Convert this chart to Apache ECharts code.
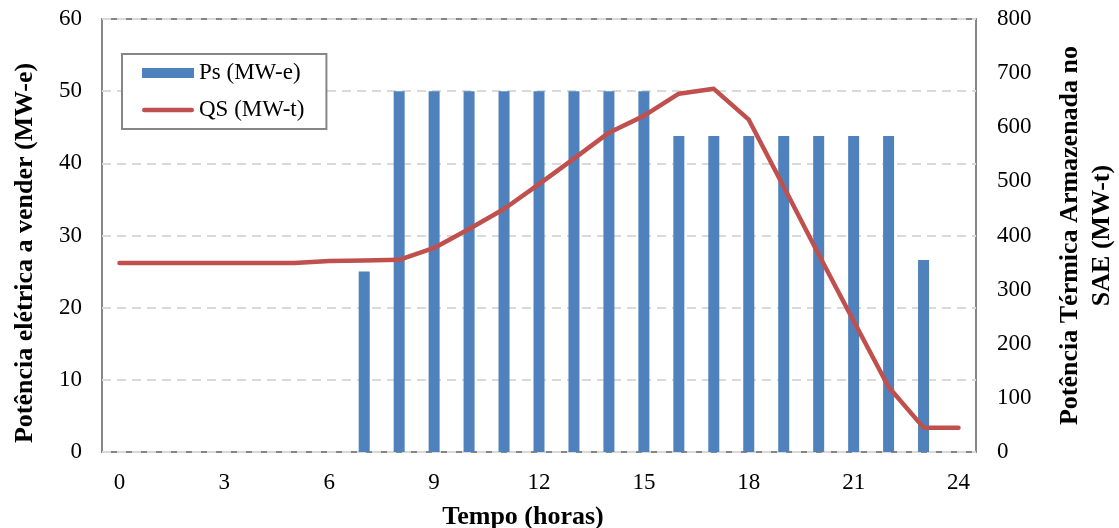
<!DOCTYPE html>
<html>
<head>
<meta charset="utf-8">
<script src="https://cdn.jsdelivr.net/npm/echarts@6/dist/echarts.min.js"></script>
<style>
  html, body { margin: 0; padding: 0; background: #fff; }
  #chart { width: 1119px; height: 528px; }
</style>
</head>
<body>
<div id="chart"></div>
<script>
// Hours of the day (0..24)
const hours = ['0','1','2','3','4','5','6','7','8','9','10','11','12','13','14','15','16','17','18','19','20','21','22','23','24'];

// Electric power to sell, Ps (MW-e)
const psValues = [null, null, null, null, null, null, null, 25, 50, 50, 50, 50, 50, 50, 50, 50,
                  43.8, 43.8, 43.8, 43.8, 43.8, 43.8, 43.8, 26.6, null];

// Thermal power stored in the SAE, QS (MW-t)
const qsValues = [349, 349, 349, 349, 349, 349, 353, 354, 355, 377, 412, 449, 495, 542, 590, 621,
                  662, 671, 614, 490, 365, 242, 120, 45, 45];

const font = 'Liberation Serif, Times New Roman, serif';

// Thick rounded stroke used as the line series' legend icon
const lineIcon = 'path://M2.25,0 H49.75 A2.25,2.25 0 0 1 49.75,4.5 H2.25 A2.25,2.25 0 0 1 2.25,0 Z';

const chart = echarts.init(document.getElementById('chart'), null, { renderer: 'canvas' });

chart.setOption({
  animation: false,
  backgroundColor: '#ffffff',
  textStyle: { fontFamily: font },
  grid: {
    left: 102, right: 143, top: 19, bottom: 76,
    outerBoundsMode: 'none',
    containLabel: false,
    show: true, borderColor: '#868686', borderWidth: 2, backgroundColor: '#ffffff'
  },
  legend: {
    orient: 'vertical',
    left: 122, top: 54,
    backgroundColor: '#ffffff',
    borderColor: '#868686', borderWidth: 2,
    padding: [7, 22, 7, 20],
    itemWidth: 52, itemHeight: 10, itemGap: 13,
    symbolKeepAspect: true,
    textStyle: { fontFamily: font, fontSize: 23, color: '#000', lineHeight: 24 },
    data: [
      { name: 'Ps (MW-e)', icon: 'rect' },
      { name: 'QS (MW-t)', icon: lineIcon }
    ]
  },
  xAxis: {
    type: 'category',
    data: hours,
    boundaryGap: true,
    name: 'Tempo (horas)',
    nameLocation: 'middle',
    nameGap: 52,
    nameTextStyle: { fontFamily: font, fontSize: 26, fontWeight: 'bold', color: '#000', padding: [0, 32, 0, 0] },
    axisLine: { show: false },
    axisTick: { show: false },
    axisLabel: { interval: 2, margin: 19, fontFamily: font, fontSize: 23, color: '#000' },
    splitLine: { show: false }
  },
  yAxis: [
    {
      type: 'value', min: 0, max: 60, interval: 10, position: 'left',
      name: 'Potência elétrica a vender (MW-e)',
      nameLocation: 'middle', nameRotate: 90, nameGap: 64,
      nameTextStyle: { fontFamily: font, fontSize: 26, fontWeight: 'bold', color: '#000', padding: [0, 35, 0, 0] },
      axisLine: { show: false }, axisTick: { show: false },
      axisLabel: { margin: 20, fontFamily: font, fontSize: 23, color: '#000' },
      splitLine: { show: true, lineStyle: { color: '#d9d9d9', width: 2, type: [9, 6] } }
    },
    {
      type: 'value', min: 0, max: 800, interval: 100, position: 'right',
      name: 'Potência Térmica Armazenada no\nSAE (MW-t)',
      nameLocation: 'middle', nameRotate: 90, nameGap: 78,
      nameTextStyle: { fontFamily: font, fontSize: 26, fontWeight: 'bold', color: '#000', lineHeight: 32, align: 'center' },
      axisLine: { show: false }, axisTick: { show: false },
      axisLabel: { margin: 21, fontFamily: font, fontSize: 23, color: '#000' },
      splitLine: { show: false }
    }
  ],
  series: [
    {
      name: 'Ps (MW-e)',
      type: 'bar',
      yAxisIndex: 0,
      data: psValues,
      barWidth: 11,
      itemStyle: { color: '#4f81bd' }
    },
    {
      name: 'QS (MW-t)',
      type: 'line',
      yAxisIndex: 1,
      data: qsValues,
      symbol: 'none',
      lineStyle: { color: '#c0504d', width: 4.5, cap: 'round', join: 'round' },
      itemStyle: { color: '#c0504d' },
      z: 3
    }
  ]
});
</script>
</body>
</html>
